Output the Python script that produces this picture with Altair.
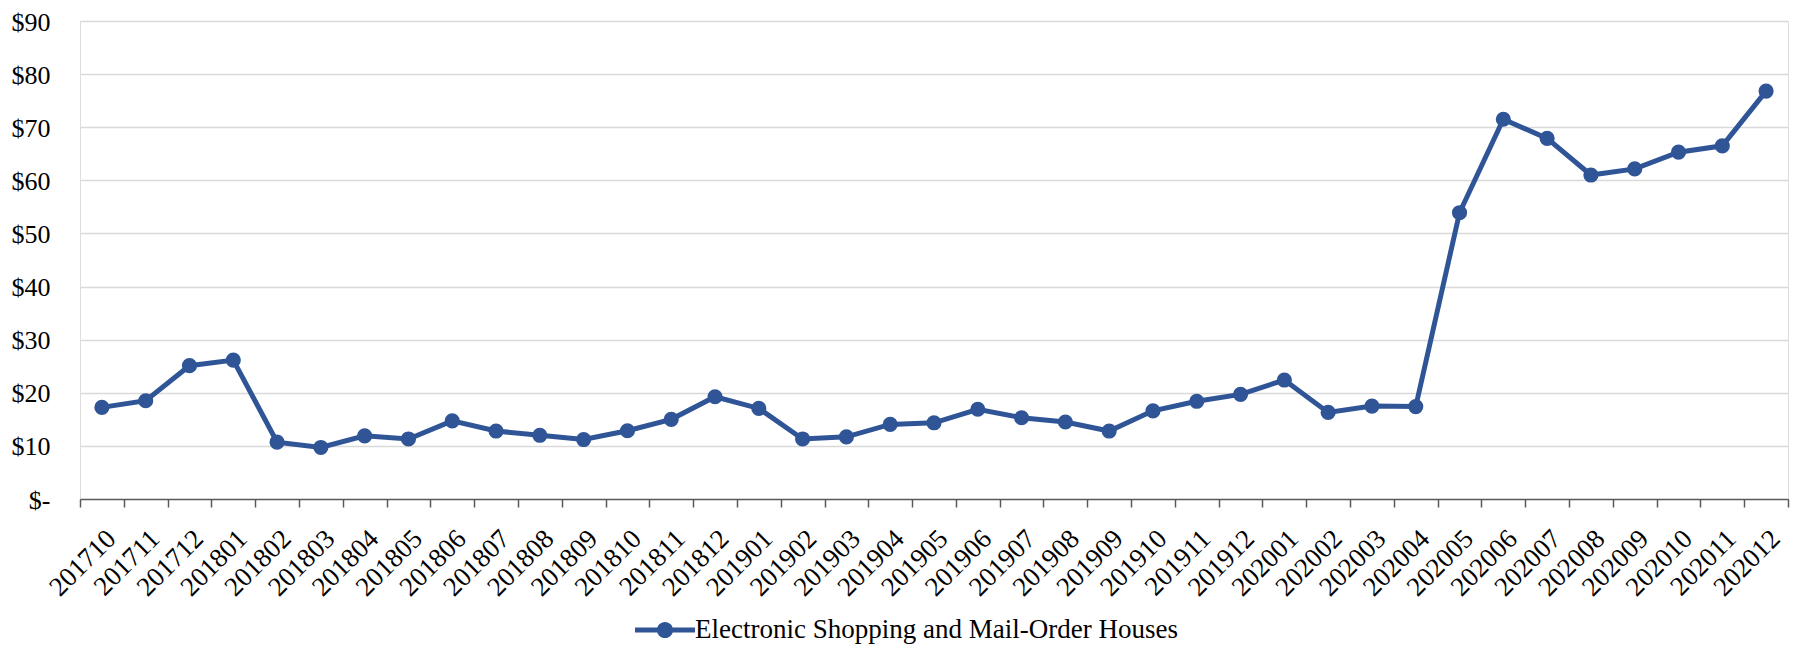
import altair as alt
import pandas as pd

months = ["201710", "201711", "201712",
          "201801", "201802", "201803", "201804", "201805", "201806",
          "201807", "201808", "201809", "201810", "201811", "201812",
          "201901", "201902", "201903", "201904", "201905", "201906",
          "201907", "201908", "201909", "201910", "201911", "201912",
          "202001", "202002", "202003", "202004", "202005", "202006",
          "202007", "202008", "202009", "202010", "202011", "202012"]

values = [17.25, 18.5, 25.1,
          26.15, 10.7, 9.7, 11.9, 11.3, 14.7, 12.8, 12.0, 11.2, 12.85, 15.0, 19.25,
          17.05, 11.3, 11.7, 14.05, 14.35, 16.9, 15.3, 14.5, 12.8, 16.6, 18.4, 19.7,
          22.4, 16.3, 17.5, 17.4, 53.9, 71.5, 67.9, 61.0, 62.15, 65.3, 66.5, 76.8]

series_name = "Electronic Shopping and Mail-Order Houses"
y_ticks = [0, 10, 20, 30, 40, 50, 60, 70, 80, 90]

df = pd.DataFrame({"month": months, "value": values, "series": [series_name] * len(months)})

BLUE = "#2F5597"
FONT = "Liberation Serif"
AXIS_GRAY = "#595959"

legend_symbol = ("M-1,-0.085 L1,-0.085 L1,0.085 L-1,0.085 Z "
                 "M-0.27,0 A0.27,0.27 0 1,1 0.27,0 A0.27,0.27 0 1,1 -0.27,0 Z")

x = alt.X(
    "month:O",
    sort=months,
    bandPosition=0.5,
    scale=alt.Scale(type="band", paddingInner=0, paddingOuter=0),
    axis=alt.Axis(
        title=None,
        labelAngle=-45,
        labelFont=FONT,
        labelFontSize=27,
        labelColor="#000000",
        labelPadding=18,
        tickBand="extent",
        tickSize=8,
        tickWidth=1.5,
        tickColor=AXIS_GRAY,
        domainColor=AXIS_GRAY,
        domainWidth=1.5,
        grid=False,
    ),
)

y = alt.Y(
    "value:Q",
    scale=alt.Scale(domain=[0, 90], nice=False),
    axis=alt.Axis(
        title=None,
        values=y_ticks,
        labelExpr="datum.value == 0 ? '$-' : '$' + datum.value",
        labelFont=FONT,
        labelFontSize=26,
        labelColor="#000000",
        labelPadding=30,
        labelOffset=1,
        ticks=False,
        domain=False,
        gridColor="#d9d9d9",
        gridWidth=1.5,
        gridOpacity={"condition": {"test": "datum.value === 0", "value": 0}, "value": 1},
    ),
)

line = alt.Chart(df).mark_line(color=BLUE, strokeWidth=5).encode(x=x, y=y)

points = alt.Chart(df).mark_point(filled=True, size=230, opacity=1).encode(
    x=x,
    y=y,
    color=alt.Color(
        "series:N",
        scale=alt.Scale(range=[BLUE]),
        legend=alt.Legend(
            title=None,
            orient="none",
            legendX=555,
            legendY=579,
            padding=0,
            symbolType=legend_symbol,
            symbolSize=3600,
            symbolStrokeWidth=0,
            symbolOpacity=1,
            labelFont=FONT,
            labelFontSize=27,
            labelColor="#000000",
            labelOffset=0,
            labelLimit=2000,
        ),
    ),
)

chart = (
    alt.layer(line, points)
    .properties(
        width=1708,
        height=478,
        autosize="none",
        padding={"left": 72, "top": 13, "right": 3, "bottom": 148},
        background="#ffffff",
    )
    .configure_view(strokeWidth=0)
    .configure(font=FONT)
)

chart.save("out.html", embed_options={"renderer": "svg", "actions": False})
